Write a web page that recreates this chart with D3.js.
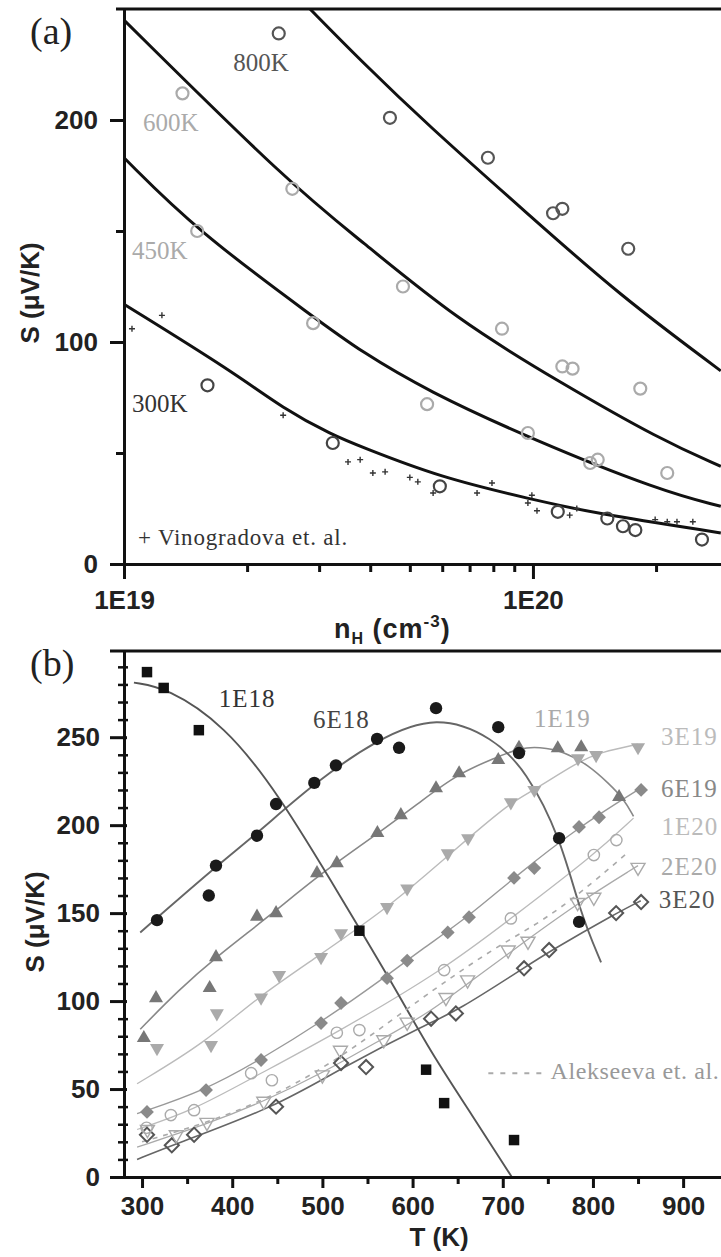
<!DOCTYPE html>
<html><head><meta charset="utf-8">
<script src="https://cdn.jsdelivr.net/npm/d3@7/dist/d3.min.js"></script>
<style>
html,body{margin:0;padding:0;background:#fff;}
svg{display:block;}
.serif{font-family:"Liberation Serif","Times New Roman",serif;}
.sans{font-family:"Liberation Sans",Arial,sans-serif;font-weight:bold;}
</style></head><body>
<svg id="chart" width="721" height="1257"></svg>
<script>
// ================= Panel (a): S vs n_H =================
const aYTicks=[0,100,200];
const aYMinor=[50,150];
const aXTicks=[1e19,1e20];
const aXTickLabels=["1E19","1E20"];
const aXMinor=[2e19,3e19,4e19,5e19,6e19,7e19,8e19,9e19,2e20];

const fit800K=[[2.85e19,250],[3.78e19,227],[5.51e19,198],[9.67e19,158],[1.63e20,121],[2.88e20,87]];
const fit600K=[[1e19,245],[2.55e19,171],[3.78e19,146],[6.52e19,110],[1.16e20,82],[2.05e20,56],[2.88e20,44]];
const fit450K=[[1e19,183],[1.51e19,150],[2.97e19,110],[3.78e19,96],[5.51e19,78],[1e20,56],[2.05e20,33],[2.88e20,26]];
const fit300K=[[1e19,117],[1.85e19,86.5],[2.45e19,70],[3.24e19,58],[3.78e19,53],[5.92e19,39],[1e20,29],[1.4e20,23],[2.88e20,14]];

const pts800K=[[2.39e19,239],[4.47e19,201],[7.76e19,183],[1.12e20,158],[1.18e20,160],[1.71e20,142]];
const pts600K=[[1.39e19,212],[2.58e19,169],[4.81e19,125],[8.4e19,106],[1.18e20,89],[1.25e20,88],[1.83e20,79]];
const pts450K=[[1.51e19,150],[2.9e19,108.5],[5.51e19,72],[9.72e19,59],[1.38e20,45.5],[1.44e20,47],[2.13e20,41]];
const pts300K=[[1.6e19,80.5],[3.24e19,54.5],[5.92e19,35],[1.15e20,23.5],[1.52e20,20.5],[1.66e20,17],[1.78e20,15.3],[2.59e20,11]];

const vinogradova=[[1.046e19,106],[1.238e19,112],[2.45e19,67],[3.53e19,46],[3.78e19,47],[4.06e19,41],[4.35e19,41.5],
 [5.0e19,39],[5.23e19,37],[5.7e19,32],[7.3e19,32],[7.94e19,36.5],[9.94e19,31],[9.72e19,27.5],[1.023e20,24],
 [1.28e20,25],[1.23e20,22],[1.99e20,20],[2.13e20,19],[2.25e20,19],[2.46e20,19]];

// ================= Panel (b): S vs T =================
const bYTicks=[0,50,100,150,200,250];
const bXTicks=[300,400,500,600,700,800,900];
const bXMinor=[350,450,550,650,750,850,950];

const fit1E18=[[291,281],[328,278],[391,257],[450,219],[524,156],[580,108],[620,71],[665,36],[710,0]];
const fit6E18=[[298,139],[383,177],[427,195],[491,224],[561,249],[627,263],[689,250],[726,231],[764,193],[786,150],[809,122]];
const fit1E19=[[298,84],[340,106],[382,125],[443,149],[494,171],[561,195],[613,215],[650,229],[690,238],[720,244],[740,244.5],[768,242],[795,234],[817,224],[834,215],[845,205]];
const fit3E19=[[294.5,53],[369,76],[427.5,102],[494,125],[571.7,153],[613,171],[665,194],[709,213],[735,220],[783.5,236],[809,241.5],[850,246]];
const fit6E19=[[294.5,36],[369,49],[432,67],[498.5,88],[568,113],[609,129],[662,148],[712,170],[784,199],[853,221]];
const fit1E20=[[294.5,27],[357,38],[421,56],[516,82],[635,118],[709,147],[801,183],[845,204]];
const fit2E20=[[294.5,17],[372,30],[435,43],[500,59],[568,79],[617,93],[661,110],[709,128],[781,155],[850,177]];
const fitAlekseeva=[[300,20],[400,35],[500,60],[600,98],[650,116],[700,133],[760,150],[840,185]];
const fit3E20=[[294.5,10],[333,18],[449,40],[521,62],[620,88],[648,94],[724,119],[751,128],[826,150],[853,157]];

const pts1E18=[[305.5,287],[324,278],[363,254],[541,140],[615,61],[635,42],[712.5,21]];
const pts6E18=[[316.6,146],[374,160],[382,177],[427.5,194],[448.6,212],[491,224],[515,234],[560.6,249],[585,244],[626,266.5],[695,255.7],[718,241],[762.5,192.6],[784.6,145]];
const pts1E19=[[302,79],[315.5,101.7],[375,107.4],[382,125],[427.5,148],[448.6,150],[494,172.7],[516,178.4],[561,195.5],[587,205.7],[626,221],[651.6,229.5],[695,237],[718,244],[761,243.7],[787,244.3],[829,216]];
const pts3E19=[[316.6,73.3],[376.5,75],[383,93],[432,102],[452,114.8],[498.5,125],[520.7,138.6],[571.7,153.4],[594,164],[639,184],[661.5,192.6],[709,213],[735,220],[783.5,238],[803.5,239.8],[850,244.3]];
const pts6E19=[[305.5,37],[371,49.4],[432,66.5],[498.5,87.5],[520.7,98.9],[571.7,113],[594,123],[639,139],[662.6,147.7],[712.5,170],[735,175.6],[784.6,199],[806.8,204.5],[853.4,220]];
const pts1E20=[[305,28],[332,35.2],[357.7,38],[421,59],[444,55],[516,82],[541,83.5],[635,117.6],[709,147],[801,183],[826,191.5]];
const pts2E20=[[306,27],[338,24],[372,31],[435,43],[500,58],[520,72],[568,78],[594,88],[637,102],[661,112],[706,129],[728,134],[783,156],[801,159],[850,176]];
const pts3E20=[[305.5,24],[333,18],[357.7,24],[448.6,40],[520.7,64.8],[548.4,62.5],[620.5,90],[648,93],[723.6,118.6],[751.4,129],[825.7,150],[853.4,156.3]];

// ================= Drawing =================
const svg=d3.select("#chart");
const xA=d3.scaleLog().domain([1e19,2.883e20]).range([124,721]);
const yA=d3.scaleLinear().domain([0,250]).range([564,9]);
const xB=d3.scaleLinear().domain([280,942]).range([124,721]);
const yB=d3.scaleLinear().domain([0,299]).range([1177,651]);

const defs=svg.append("defs");
defs.append("clipPath").attr("id","clipA").append("rect").attr("x",124).attr("y",9).attr("width",597).attr("height",555);
defs.append("clipPath").attr("id","clipB").append("rect").attr("x",124).attr("y",651).attr("width",597).attr("height",526);

// ---- Panel A
const aSeries=[
 {fit:fit800K,pts:pts800K,color:"#555"},
 {fit:fit600K,pts:pts600K,color:"#aaa"},
 {fit:fit450K,pts:pts450K,color:"#aaa"},
 {fit:fit300K,pts:pts300K,color:"#444"}
];
const gA=svg.append("g");
const plotA=gA.append("g").attr("clip-path","url(#clipA)");
const lineA=d3.line().x(d=>xA(d[0])).y(d=>yA(d[1])).curve(d3.curveBasis);
aSeries.forEach(s=>{
  plotA.append("path").attr("d",lineA(s.fit)).attr("fill","none").attr("stroke","#111").attr("stroke-width",3);
});
plotA.selectAll(null).data(vinogradova).join("path")
  .attr("transform",d=>`translate(${xA(d[0])},${yA(d[1])})`)
  .attr("d","M-3,0H3M0,-3V3").attr("stroke","#333").attr("stroke-width",1.4);
aSeries.forEach(s=>{
  plotA.selectAll(null).data(s.pts).join("circle")
    .attr("cx",d=>xA(d[0])).attr("cy",d=>yA(d[1])).attr("r",6)
    .attr("fill","none").attr("stroke",s.color).attr("stroke-width",2.2);
});

function styleAxis(g,fs){
  g.select(".domain").attr("stroke","#111").attr("stroke-width",3);
  g.selectAll(".tick line").attr("stroke","#111").attr("stroke-width",3);
  g.selectAll(".tick text").attr("class","sans").attr("font-size",fs).attr("fill","#222");
}
// y axis A
gA.append("g").attr("transform","translate(124,0)")
  .call(d3.axisLeft(yA).tickValues(aYTicks).tickSize(14).tickPadding(12).tickSizeOuter(0))
  .call(g=>styleAxis(g,26));
gA.append("g").attr("transform","translate(124,0)")
  .call(d3.axisLeft(yA).tickValues(aYMinor).tickSize(8).tickFormat("").tickSizeOuter(0))
  .call(g=>styleAxis(g,26));
// x axis A
gA.append("g").attr("transform",`translate(0,${yA(0)})`)
  .call(d3.axisBottom(xA).tickValues(aXTicks).tickFormat((d,i)=>aXTickLabels[i]).tickSize(15).tickPadding(12).tickSizeOuter(0))
  .call(g=>styleAxis(g,26));
gA.append("g").attr("transform",`translate(0,${yA(0)})`)
  .call(d3.axisBottom(xA).tickValues(aXMinor).tickSize(8).tickFormat("").tickSizeOuter(0))
  .call(g=>styleAxis(g,26));
// top frame
gA.append("line").attr("x1",116).attr("x2",721).attr("y1",yA(250)).attr("y2",yA(250)).attr("stroke","#111").attr("stroke-width",3);

// labels A
const aLabels=[
 {t:"800K",n:1.85e19,s:222,c:"#555"},
 {t:"600K",n:1.113e19,s:195,c:"#aaa"},
 {t:"450K",n:1.046e19,s:137.5,c:"#aaa"},
 {t:"300K",n:1.046e19,s:68.5,c:"#333"}
];
gA.selectAll(null).data(aLabels).join("text").attr("class","serif")
  .attr("x",d=>xA(d.n)).attr("y",d=>yA(d.s)).attr("font-size",25).attr("fill",d=>d.c).text(d=>d.t);
gA.append("text").attr("class","serif").attr("x",xA(1.082e19)).attr("y",yA(8.6))
  .attr("font-size",23).attr("letter-spacing",0.8).attr("fill","#333").text("+ Vinogradova et. al.");
gA.append("text").attr("class","serif").attr("x",30).attr("y",44).attr("font-size",38).attr("fill","#222").text("(a)");
gA.append("text").attr("class","sans").attr("font-size",26).attr("fill","#222")
  .attr("transform","translate(39,293) rotate(-90)").attr("text-anchor","middle").text("S (μV/K)");
const xtA=gA.append("text").attr("class","sans").attr("font-size",27).attr("fill","#222").attr("x",334).attr("y",638).attr("letter-spacing",1);
xtA.append("tspan").text("n");
xtA.append("tspan").attr("font-size",16).attr("dy",6).text("H");
xtA.append("tspan").attr("dy",-6).text(" (cm");
xtA.append("tspan").attr("font-size",17).attr("dy",-11).text("-3");
xtA.append("tspan").attr("dy",11).text(")");

// ---- Panel B
const gB=svg.append("g");
const plotB=gB.append("g").attr("clip-path","url(#clipB)");
const lineB=d3.line().x(d=>xB(d[0])).y(d=>yB(d[1])).curve(d3.curveBasis);
const bLines=[
 {fit:fit3E20,c:"#666",w:1.6},
 {fit:fit2E20,c:"#aaa",w:1.3},
 {fit:fit1E20,c:"#bbb",w:1.3},
 {fit:fit6E19,c:"#999",w:1.4},
 {fit:fit3E19,c:"#bbb",w:1.4},
 {fit:fit1E19,c:"#888",w:1.6},
 {fit:fit6E18,c:"#666",w:1.9},
 {fit:fit1E18,c:"#555",w:1.9}
];
bLines.forEach(s=>{
  plotB.append("path").attr("d",lineB(s.fit)).attr("fill","none").attr("stroke",s.c).attr("stroke-width",s.w);
});
plotB.append("path").attr("d",lineB(fitAlekseeva)).attr("fill","none").attr("stroke","#aaa").attr("stroke-width",1.6).attr("stroke-dasharray","5,6");

const sym=(type,size)=>d3.symbol().type(type).size(size)();
const bMarkers=[
 {pts:pts3E20,d:sym(d3.symbolSquare,100),rot:45,fill:"none",stroke:"#555",sw:2},
 {pts:pts2E20,d:sym(d3.symbolTriangle,85),rot:180,fill:"none",stroke:"#aaa",sw:1.4},
 {pts:pts1E20,d:sym(d3.symbolCircle,100),rot:0,fill:"none",stroke:"#aaa",sw:1.4},
 {pts:pts6E19,d:sym(d3.symbolSquare,95),rot:45,fill:"#8a8a8a",stroke:"none",sw:0},
 {pts:pts3E19,d:sym(d3.symbolTriangle,85),rot:180,fill:"#aaa",stroke:"none",sw:0},
 {pts:pts1E19,d:sym(d3.symbolTriangle,85),rot:0,fill:"#777",stroke:"none",sw:0},
 {pts:pts6E18,d:sym(d3.symbolCircle,120),rot:0,fill:"#1a1a1a",stroke:"none",sw:0},
 {pts:pts1E18,d:sym(d3.symbolSquare,110),rot:0,fill:"#111",stroke:"none",sw:0}
];
bMarkers.forEach(m=>{
  plotB.selectAll(null).data(m.pts).join("path")
   .attr("transform",d=>`translate(${xB(d[0])},${yB(d[1])}) rotate(${m.rot})`)
   .attr("d",m.d).attr("fill",m.fill).attr("stroke",m.stroke).attr("stroke-width",m.sw);
});

// axes B
const bYMinor=d3.range(10,300,10).filter(v=>v%50!==0);
gB.append("g").attr("transform","translate(124,0)")
  .call(d3.axisLeft(yB).tickValues(bYTicks).tickSize(14).tickPadding(10).tickSizeOuter(0))
  .call(g=>styleAxis(g,26)).call(g=>g.selectAll(".tick line").attr("x2",3).attr("x1",-14));
gB.append("g").attr("transform","translate(124,0)")
  .call(d3.axisLeft(yB).tickValues(bYMinor).tickSize(6).tickFormat("").tickSizeOuter(0))
  .call(g=>styleAxis(g,26)).call(g=>g.selectAll(".tick line").attr("x1",4).attr("x2",-6).attr("stroke-width",2.5));
gB.append("g").attr("transform",`translate(0,${yB(0)})`)
  .call(d3.axisBottom(xB).tickValues(bXTicks).tickSize(11).tickPadding(9).tickSizeOuter(0))
  .call(g=>styleAxis(g,26));
gB.append("g").attr("transform",`translate(0,${yB(0)})`)
  .call(d3.axisBottom(xB).tickValues(bXMinor).tickSize(7).tickFormat("").tickSizeOuter(0))
  .call(g=>styleAxis(g,26));
gB.append("line").attr("x1",110).attr("x2",721).attr("y1",yB(299)).attr("y2",yB(299)).attr("stroke","#111").attr("stroke-width",3);

const bLabels=[
 {t:"1E18",T:385,s:267,c:"#333"},
 {t:"6E18",T:489.6,s:255,c:"#444"},
 {t:"1E19",T:734.7,s:256,c:"#aaa"},
 {t:"3E19",T:875.5,s:245.5,c:"#bbb"},
 {t:"6E19",T:875.5,s:216,c:"#888"},
 {t:"1E20",T:876,s:194.3,c:"#bbb"},
 {t:"2E20",T:875.5,s:171.6,c:"#aaa"},
 {t:"3E20",T:873,s:152.8,c:"#555"}
];
gB.selectAll(null).data(bLabels).join("text").attr("class","serif")
  .attr("x",d=>xB(d.T)).attr("y",d=>yB(d.s)).attr("font-size",25).attr("letter-spacing",1).attr("fill",d=>d.c).text(d=>d.t);
gB.append("line").attr("x1",xB(684)).attr("x2",xB(748)).attr("y1",yB(59)).attr("y2",yB(59))
  .attr("stroke","#aaa").attr("stroke-width",2).attr("stroke-dasharray","5,7");
gB.append("text").attr("class","serif").attr("x",xB(753)).attr("y",yB(55.7)).attr("font-size",24).attr("letter-spacing",0.6).attr("fill","#999").text("Alekseeva et. al.");
gB.append("text").attr("class","serif").attr("x",30).attr("y",676).attr("font-size",38).attr("fill","#222").text("(b)");
gB.append("text").attr("class","sans").attr("font-size",26).attr("fill","#222")
  .attr("transform","translate(44,922) rotate(-90)").attr("text-anchor","middle").text("S (μV/K)");
gB.append("text").attr("class","sans").attr("font-size",26).attr("fill","#222").attr("x",439).attr("y",1246).attr("text-anchor","middle").text("T (K)");
</script>
</body></html>
